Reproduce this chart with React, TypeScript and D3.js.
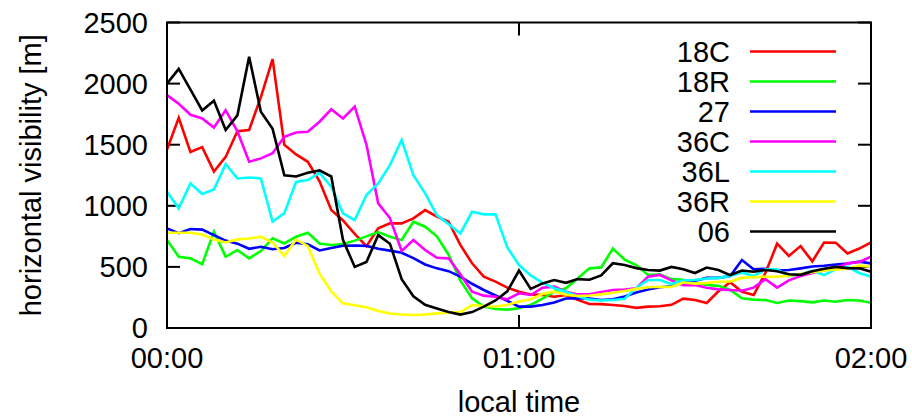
import * as d3 from "d3";

// minutes after midnight, sampled every 2 minutes
const minutes = [
  0, 2, 4, 6, 8, 10, 12, 14, 16, 18, 20, 22, 24, 26, 28, 30, 32, 34, 36, 38, 40,
  42, 44, 46, 48, 50, 52, 54, 56, 58, 60, 62, 64, 66, 68, 70, 72, 74, 76, 78, 80,
  82, 84, 86, 88, 90, 92, 94, 96, 98, 100, 102, 104, 106, 108, 110, 112, 114,
  116, 118, 120,
];

const vis18C = [
  1460, 1720, 1440, 1480, 1280, 1400, 1610, 1620, 1890, 2200, 1500, 1420, 1360,
  1200, 965, 880, 770, 670, 815, 856, 856, 897, 965, 911, 870, 680, 530, 420,
  380, 330, 297, 275, 270, 256, 270, 230, 197, 195, 188, 180, 165, 175, 178,
  190, 240, 229, 205, 300, 375, 297, 270, 450, 690, 590, 670, 545, 700, 698,
  610, 650, 700,
];
const vis18R = [
  720, 583, 570, 523, 788, 583, 638, 570, 630, 733, 692, 747, 780, 692, 679,
  687, 715, 750, 785, 747, 720, 870, 829, 750, 600, 390, 243, 175, 155, 150,
  161, 190, 240, 297, 325, 406, 488, 496, 650, 560, 515, 434, 440, 400, 395,
  370, 352, 345, 311, 243, 232, 229, 205, 225, 220, 210, 225, 215, 229, 225,
  207,
];
const vis27 = [
  815, 776, 810, 805, 760, 715, 690, 648, 665, 645, 655, 697, 685, 635, 655,
  673, 675, 672, 648, 633, 615, 572, 520, 488, 465, 420, 362, 311, 266, 222,
  175, 175, 188, 209, 241, 243, 240, 229, 235, 258, 290, 315, 334, 342, 370,
  387, 410, 410, 425, 556, 480, 485, 470, 474, 488, 503, 510, 520, 528, 543,
  529,
];
const vis36C = [
  1906, 1835, 1745, 1715, 1640, 1783, 1610, 1361, 1388, 1430, 1565, 1600, 1606,
  1688, 1790, 1715, 1811, 1500, 1020, 900, 630, 720, 638, 575, 570, 440, 297,
  265, 256, 235, 284, 270, 330, 338, 297, 275, 275, 295, 311, 315, 325, 420,
  434, 390, 350, 352, 330, 316, 311, 305, 330, 400, 330, 390, 425, 450, 470,
  490, 529, 540, 583,
];
const vis36L = [
  1115, 979, 1183, 1096, 1134, 1340, 1224, 1232, 1224, 870, 940, 1195, 1211,
  1270, 1156, 938, 883, 1088, 1183, 1333, 1538, 1251, 1102, 924, 850, 774, 951,
  930, 930, 660, 515, 430, 370, 325, 297, 260, 232, 225, 229, 240, 330, 393,
  393, 360, 390, 393, 405, 410, 425, 455, 425, 480, 480, 425, 440, 470, 433,
  480, 502, 450, 420,
];
const vis36R = [
  780, 780, 780, 765, 725, 700, 725, 733, 747, 700, 590, 725, 670, 445, 300,
  202, 186, 170, 140, 118, 110, 106, 110, 120, 125, 130, 188, 180, 174, 190,
  216, 236, 278, 297, 272, 262, 266, 275, 289, 303, 320, 333, 338, 335, 372,
  363, 368, 379, 380, 410, 416, 420, 420, 428, 442, 457, 470, 480, 485, 510,
  502,
];
const vis06 = [
  2000, 2120, 1950, 1780, 1860, 1620, 1740, 2220, 1770, 1630, 1250, 1240, 1270,
  1290, 1240, 720, 500, 540, 760, 690, 400, 260, 190, 160, 130, 110, 130, 175,
  225, 300, 470, 320, 365, 393, 370, 400, 395, 430, 530, 515, 490, 475, 470,
  500, 480, 450, 495, 475, 433, 470, 460, 475, 465, 440, 435, 465, 485, 500,
  490, 488, 461,
];

const runways = ["18C", "18R", "27", "36C", "36L", "36R", "06"];
const seriesValues = [vis18C, vis18R, vis27, vis36C, vis36L, vis36R, vis06];
const colors = ["#ff0000", "#00ff00", "#0000ff", "#ff00ff", "#00ffff", "#ffff00", "#000000"];

const yTicks = [0, 500, 1000, 1500, 2000, 2500];
const xTicks = [0, 60, 120];
const xTickLabels = ["00:00", "01:00", "02:00"];

const W = 912;
const H = 417;
const margin = { left: 167, right: 41, top: 22.5, bottom: 89 };
const font = "'Liberation Sans', Arial, sans-serif";
const fs = 29;
const tickLen = 13;

export default function App() {
  const x = d3.scaleLinear().domain([0, 120]).range([margin.left, W - margin.right]);
  const y = d3.scaleLinear().domain([0, 2500]).range([H - margin.bottom, margin.top]);

  const line = d3
    .line<number>()
    .x((_, i) => x(minutes[i]))
    .y((d) => y(d));

  const x0 = x.range()[0];
  const x1 = x.range()[1];
  const y0 = y.range()[0];
  const y1 = y.range()[1];

  const legendX = 730;
  const legendY = 51.5;
  const legendStep = 30;

  return (
    <svg
      width={W}
      height={H}
      viewBox={`0 0 ${W} ${H}`}
      style={{ position: "absolute", left: 0, top: 0, background: "#fff" }}
      fontFamily={font}
      fontSize={fs}
    >
      <defs>
        <clipPath id="plot">
          <rect x={x0} y={y1} width={x1 - x0} height={y0 - y1} />
        </clipPath>
      </defs>

      {/* tick marks, mirrored on all sides */}
      <g stroke="#000" strokeWidth={2}>
        {yTicks.map((t) => (
          <g key={"y" + t}>
            <line x1={x0} x2={x0 + tickLen} y1={y(t)} y2={y(t)} />
            <line x1={x1} x2={x1 - tickLen} y1={y(t)} y2={y(t)} />
          </g>
        ))}
        {xTicks.map((t) => (
          <g key={"x" + t}>
            <line x1={x(t)} x2={x(t)} y1={y0} y2={y0 - tickLen} />
            <line x1={x(t)} x2={x(t)} y1={y1} y2={y1 + tickLen} />
          </g>
        ))}
      </g>

      {/* tick labels */}
      {yTicks.map((t) => (
        <text key={"yl" + t} x={148} y={y(t) + 10} textAnchor="end">
          {t}
        </text>
      ))}
      {xTicks.map((t, i) => (
        <text key={"xl" + t} x={x(t)} y={368} textAnchor="middle">
          {xTickLabels[i]}
        </text>
      ))}

      {/* axis titles */}
      <text x={(x0 + x1) / 2} y={412} textAnchor="middle">
        local time
      </text>
      <text
        transform={`translate(41, ${(y0 + y1) / 2}) rotate(-90)`}
        textAnchor="middle"
      >
        horizontal visibility [m]
      </text>

      {/* series */}
      <g clipPath="url(#plot)" fill="none" strokeWidth={2.6} strokeLinejoin="miter">
        {seriesValues.map((vals, i) => (
          <path key={runways[i]} d={line(vals) || ""} stroke={colors[i]} />
        ))}
      </g>

      {/* legend */}
      {runways.map((r, i) => (
        <g key={"lg" + r}>
          <text x={legendX} y={legendY + i * legendStep + 10} textAnchor="end">
            {r}
          </text>
          <line
            x1={750}
            x2={836}
            y1={legendY + i * legendStep}
            y2={legendY + i * legendStep}
            stroke={colors[i]}
            strokeWidth={2.6}
          />
        </g>
      ))}

      {/* frame */}
      <rect
        x={x0}
        y={y1}
        width={x1 - x0}
        height={y0 - y1}
        fill="none"
        stroke="#000"
        strokeWidth={2}
      />
    </svg>
  );
}
